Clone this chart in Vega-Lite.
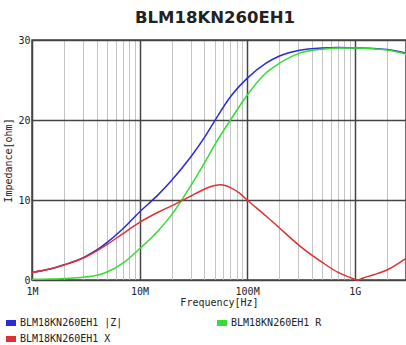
{
  "$schema": "https://vega.github.io/schema/vega-lite/v6.json",
  "autosize": {"type": "none"},
  "width": 374,
  "height": 240,
  "padding": {"left": 32, "top": 40, "right": 0, "bottom": 65},
  "background": "white",
  "title": {"text": "BLM18KN260EH1", "font": "DejaVu Sans", "fontWeight": "bold", "fontSize": 16.5, "color": "#222222", "anchor": "middle", "dx": -4, "offset": 9},
  "config": {
    "view": {"stroke": "#444444", "strokeWidth": 1.5},
    "axis": {"labelFont": "DejaVu Sans Mono", "labelFontSize": 10, "labelColor": "#222222", "titleFont": "DejaVu Sans Mono", "titleFontSize": 10, "titleFontWeight": "normal", "titleColor": "#222222"}
  },
  "data": {"values": [
    {"f": 1e6, "s": "BLM18KN260EH1 |Z|", "v": 0.95},
    {"f": 1.5e6, "s": "BLM18KN260EH1 |Z|", "v": 1.4},
    {"f": 2e6, "s": "BLM18KN260EH1 |Z|", "v": 1.9},
    {"f": 3e6, "s": "BLM18KN260EH1 |Z|", "v": 2.8},
    {"f": 4e6, "s": "BLM18KN260EH1 |Z|", "v": 3.75},
    {"f": 5e6, "s": "BLM18KN260EH1 |Z|", "v": 4.7},
    {"f": 7e6, "s": "BLM18KN260EH1 |Z|", "v": 6.4},
    {"f": 1e7, "s": "BLM18KN260EH1 |Z|", "v": 8.5},
    {"f": 1.5e7, "s": "BLM18KN260EH1 |Z|", "v": 10.7},
    {"f": 2e7, "s": "BLM18KN260EH1 |Z|", "v": 12.5},
    {"f": 3e7, "s": "BLM18KN260EH1 |Z|", "v": 15.4},
    {"f": 4e7, "s": "BLM18KN260EH1 |Z|", "v": 17.8},
    {"f": 5e7, "s": "BLM18KN260EH1 |Z|", "v": 19.9},
    {"f": 7e7, "s": "BLM18KN260EH1 |Z|", "v": 22.9},
    {"f": 1e8, "s": "BLM18KN260EH1 |Z|", "v": 25.2},
    {"f": 1.5e8, "s": "BLM18KN260EH1 |Z|", "v": 27.1},
    {"f": 2e8, "s": "BLM18KN260EH1 |Z|", "v": 28.0},
    {"f": 3e8, "s": "BLM18KN260EH1 |Z|", "v": 28.7},
    {"f": 5e8, "s": "BLM18KN260EH1 |Z|", "v": 29.0},
    {"f": 7e8, "s": "BLM18KN260EH1 |Z|", "v": 29.05},
    {"f": 1e9, "s": "BLM18KN260EH1 |Z|", "v": 29.0},
    {"f": 1.5e9, "s": "BLM18KN260EH1 |Z|", "v": 28.95},
    {"f": 2e9, "s": "BLM18KN260EH1 |Z|", "v": 28.8},
    {"f": 3e9, "s": "BLM18KN260EH1 |Z|", "v": 28.35},
    {"f": 1e6, "s": "BLM18KN260EH1 R", "v": 0.08},
    {"f": 1.5e6, "s": "BLM18KN260EH1 R", "v": 0.12},
    {"f": 2e6, "s": "BLM18KN260EH1 R", "v": 0.2},
    {"f": 3e6, "s": "BLM18KN260EH1 R", "v": 0.35},
    {"f": 4e6, "s": "BLM18KN260EH1 R", "v": 0.6},
    {"f": 5e6, "s": "BLM18KN260EH1 R", "v": 1.0},
    {"f": 7e6, "s": "BLM18KN260EH1 R", "v": 2.1},
    {"f": 1e7, "s": "BLM18KN260EH1 R", "v": 3.9},
    {"f": 1.5e7, "s": "BLM18KN260EH1 R", "v": 6.2},
    {"f": 2e7, "s": "BLM18KN260EH1 R", "v": 8.2},
    {"f": 3e7, "s": "BLM18KN260EH1 R", "v": 11.8},
    {"f": 4e7, "s": "BLM18KN260EH1 R", "v": 14.6},
    {"f": 5e7, "s": "BLM18KN260EH1 R", "v": 16.9},
    {"f": 7e7, "s": "BLM18KN260EH1 R", "v": 20.0},
    {"f": 1e8, "s": "BLM18KN260EH1 R", "v": 23.1},
    {"f": 1.5e8, "s": "BLM18KN260EH1 R", "v": 25.9},
    {"f": 2e8, "s": "BLM18KN260EH1 R", "v": 27.1},
    {"f": 3e8, "s": "BLM18KN260EH1 R", "v": 28.3},
    {"f": 5e8, "s": "BLM18KN260EH1 R", "v": 28.85},
    {"f": 7e8, "s": "BLM18KN260EH1 R", "v": 29.0},
    {"f": 1e9, "s": "BLM18KN260EH1 R", "v": 29.0},
    {"f": 1.5e9, "s": "BLM18KN260EH1 R", "v": 28.9},
    {"f": 2e9, "s": "BLM18KN260EH1 R", "v": 28.75},
    {"f": 3e9, "s": "BLM18KN260EH1 R", "v": 28.25},
    {"f": 1e6, "s": "BLM18KN260EH1 X", "v": 0.95},
    {"f": 1.5e6, "s": "BLM18KN260EH1 X", "v": 1.4},
    {"f": 2e6, "s": "BLM18KN260EH1 X", "v": 1.9},
    {"f": 3e6, "s": "BLM18KN260EH1 X", "v": 2.75},
    {"f": 4e6, "s": "BLM18KN260EH1 X", "v": 3.65},
    {"f": 5e6, "s": "BLM18KN260EH1 X", "v": 4.45},
    {"f": 7e6, "s": "BLM18KN260EH1 X", "v": 5.8},
    {"f": 1e7, "s": "BLM18KN260EH1 X", "v": 7.2},
    {"f": 1.5e7, "s": "BLM18KN260EH1 X", "v": 8.5},
    {"f": 2e7, "s": "BLM18KN260EH1 X", "v": 9.3},
    {"f": 3e7, "s": "BLM18KN260EH1 X", "v": 10.5},
    {"f": 4e7, "s": "BLM18KN260EH1 X", "v": 11.35},
    {"f": 5e7, "s": "BLM18KN260EH1 X", "v": 11.8},
    {"f": 5.7e7, "s": "BLM18KN260EH1 X", "v": 11.9},
    {"f": 7e7, "s": "BLM18KN260EH1 X", "v": 11.55},
    {"f": 8.5e7, "s": "BLM18KN260EH1 X", "v": 10.85},
    {"f": 1e8, "s": "BLM18KN260EH1 X", "v": 10.0},
    {"f": 1.5e8, "s": "BLM18KN260EH1 X", "v": 8.0},
    {"f": 2e8, "s": "BLM18KN260EH1 X", "v": 6.5},
    {"f": 3e8, "s": "BLM18KN260EH1 X", "v": 4.4},
    {"f": 5e8, "s": "BLM18KN260EH1 X", "v": 2.2},
    {"f": 7e8, "s": "BLM18KN260EH1 X", "v": 0.95},
    {"f": 8.5e8, "s": "BLM18KN260EH1 X", "v": 0.45},
    {"f": 1e9, "s": "BLM18KN260EH1 X", "v": 0.1},
    {"f": 1.05e9, "s": "BLM18KN260EH1 X", "v": 0.0},
    {"f": 1.2e9, "s": "BLM18KN260EH1 X", "v": 0.25},
    {"f": 1.5e9, "s": "BLM18KN260EH1 X", "v": 0.65},
    {"f": 2e9, "s": "BLM18KN260EH1 X", "v": 1.25},
    {"f": 3e9, "s": "BLM18KN260EH1 X", "v": 2.7}
  ]},
  "encoding": {
    "x": {
      "field": "f", "type": "quantitative",
      "scale": {"type": "log", "domain": [1000000, 3000000000], "nice": false},
      "axis": {
        "values": [1000000, 2000000, 3000000, 4000000, 5000000, 6000000, 7000000, 8000000, 9000000, 10000000, 20000000, 30000000, 40000000, 50000000, 60000000, 70000000, 80000000, 90000000, 100000000, 200000000, 300000000, 400000000, 500000000, 600000000, 700000000, 800000000, 900000000, 1000000000, 2000000000, 3000000000],
        "grid": true,
        "gridColor": {"condition": {"test": "datum.value == 1000000 || datum.value == 10000000 || datum.value == 100000000 || datum.value == 1000000000", "value": "#444444"}, "value": "#c4c4c4"},
        "gridWidth": {"condition": {"test": "datum.value == 1000000 || datum.value == 10000000 || datum.value == 100000000 || datum.value == 1000000000", "value": 1.5}, "value": 1},
        "labelExpr": "datum.value == 1000000 ? '1M' : datum.value == 10000000 ? '10M' : datum.value == 100000000 ? '100M' : datum.value == 1000000000 ? '1G' : ''",
        "labelOverlap": false,
        "labelFlush": false,
        "ticks": false,
        "domain": false,
        "labelPadding": 6,
        "title": "Frequency[Hz]",
        "titlePadding": 1
      }
    },
    "y": {
      "field": "v", "type": "quantitative",
      "scale": {"domain": [0, 30], "nice": false},
      "axis": {"values": [0, 10, 20, 30], "grid": true, "gridColor": "#444444", "gridWidth": 1.5, "ticks": false, "domain": false, "labelPadding": 2, "title": "Impedance[ohm]", "titlePadding": 4}
    },
    "color": {
      "field": "s", "type": "nominal",
      "scale": {"domain": ["BLM18KN260EH1 |Z|", "BLM18KN260EH1 R", "BLM18KN260EH1 X"], "range": ["#2a2ad8", "#33dd33", "#e03030"]},
      "legend": {"orient": "none", "legendX": -29, "legendY": 278, "direction": "horizontal", "columns": 2, "title": null, "symbolType": "stroke", "symbolSize": 100, "symbolStrokeWidth": 6, "labelFont": "DejaVu Sans Mono", "labelFontSize": 10, "labelColor": "#222222", "labelOffset": 1, "columnPadding": 91, "rowPadding": 6, "clipHeight": 10, "padding": 0}
    }
  },
  "layer": [
    {"transform": [{"filter": "datum.s == 'BLM18KN260EH1 |Z|'"}], "mark": {"type": "line", "strokeWidth": 1.5, "interpolate": "monotone"}},
    {"transform": [{"filter": "datum.s == 'BLM18KN260EH1 R'"}], "mark": {"type": "line", "strokeWidth": 1.5, "interpolate": "monotone"}},
    {"transform": [{"filter": "datum.s == 'BLM18KN260EH1 X'"}], "mark": {"type": "line", "strokeWidth": 1.5, "interpolate": "monotone"}}
  ]
}
